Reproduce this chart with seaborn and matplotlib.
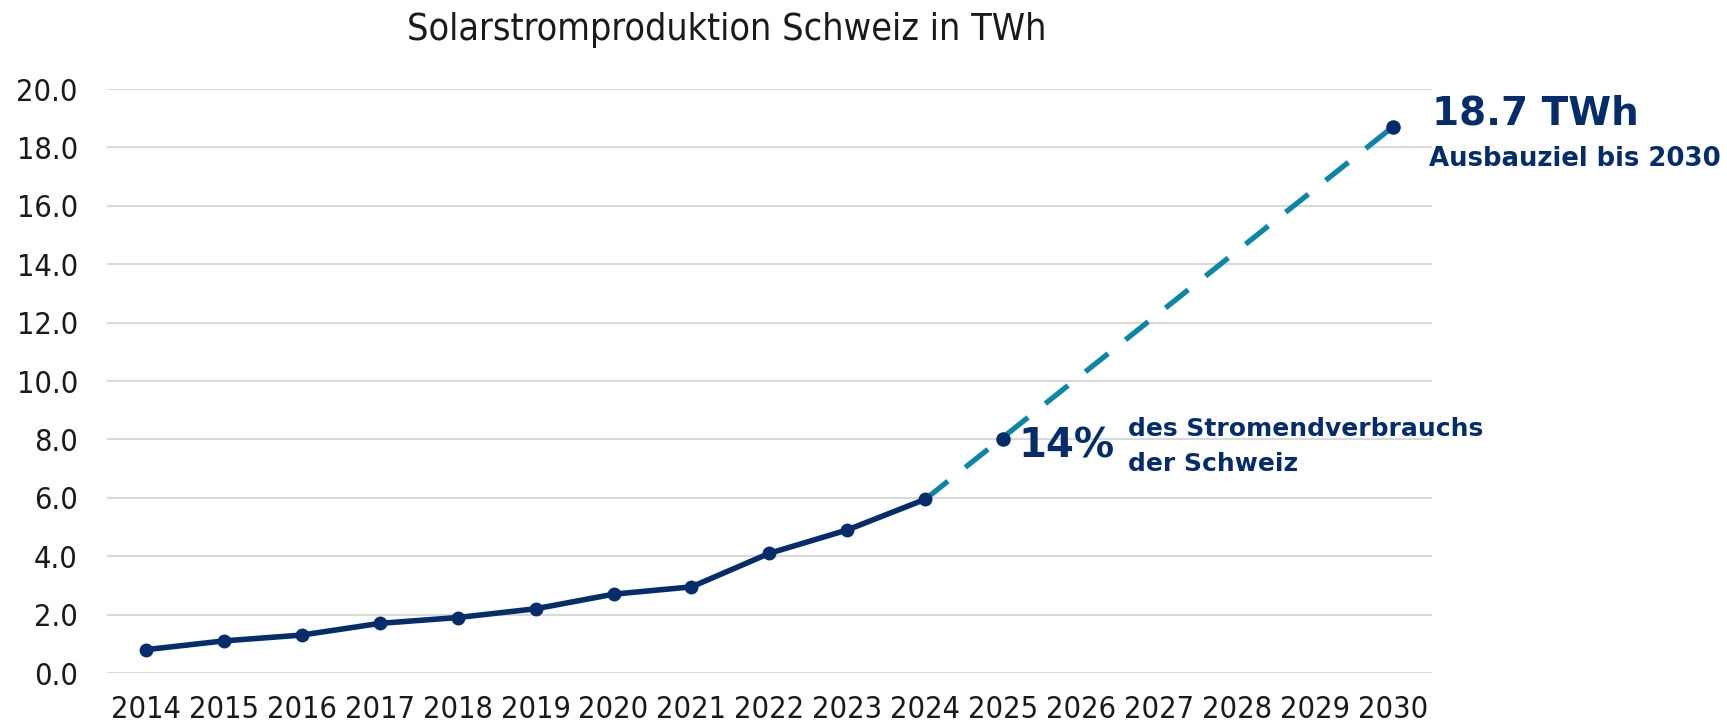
import pandas as pd
import numpy as np
import matplotlib.pyplot as plt
import seaborn as sns
from matplotlib import font_manager

# Data
years = [str(y) for y in range(2014, 2031)]
actual_years = ["2014", "2015", "2016", "2017", "2018", "2019", "2020",
                "2021", "2022", "2023", "2024"]
actual_twh = [0.8, 1.1, 1.3, 1.7, 1.9, 2.2, 2.7, 2.95, 4.1, 4.9, 5.95]
target_years = ["2024", "2030"]
target_twh = [5.95, 18.7]
milestone_years = ["2025", "2030"]
milestone_twh = [8.0, 18.7]
yticks = [0, 2, 4, 6, 8, 10, 12, 14, 16, 18, 20]

title = "Solarstromproduktion Schweiz in TWh"
goal_big = "18.7 TWh"
goal_small = "Ausbauziel bis 2030"
share_big = "14%"
share_small = "des Stromendverbrauchs\nder Schweiz"

navy = "#062d6b"
teal = "#0a86a8"
grid = "#d9d9d9"

sns.set_style("white")
plt.rcParams["font.family"] = ["DejaVu Sans"]


def condensed_font():
    # look for a narrow/condensed regular face among the installed fonts
    narrow = ("condensed", "semi-condensed", "extra-condensed", "ultra-condensed")
    best = None
    for f in font_manager.fontManager.ttflist:
        is_narrow = f.stretch in narrow or "Narrow" in f.name or "Condensed" in f.name
        w = f.weight if isinstance(f.weight, int) else {"normal": 400, "regular": 400, "book": 400}.get(str(f.weight), 700)
        if is_narrow and w == 400 and f.style == "normal":
            rank = 0 if "DejaVu" in f.name else 1 if "Liberation" in f.name else 2
            if best is None or rank < best[0]:
                best = (rank, f.fname)
    if best is None:
        return None
    return font_manager.FontProperties(fname=best[1])


narrow_fp = condensed_font()

pos = {y: i for i, y in enumerate(years)}
df_act = pd.DataFrame({"x": [pos[y] for y in actual_years], "twh": actual_twh})
df_tgt = pd.DataFrame({"x": [pos[y] for y in target_years], "twh": target_twh})
df_ms = pd.DataFrame({"x": [pos[y] for y in milestone_years], "twh": milestone_twh})

fig = plt.figure(figsize=(17.27, 7.25), dpi=100)
ax = fig.add_axes([0.062, 0.0717, 0.767, 0.8055])

# gridlines
for t in yticks:
    ax.axhline(t, color=grid, lw=1.5, zorder=0)

# projection (dashed)
sns.lineplot(data=df_tgt, x="x", y="twh", ax=ax, color=teal, lw=3.8, zorder=2)
ax.lines[-1].set_dashes([5.5, 4.2])
# actual production
sns.lineplot(data=df_act, x="x", y="twh", ax=ax, color=navy, lw=4.0,
             marker="o", markersize=10, markeredgewidth=0, zorder=3)
sns.scatterplot(data=df_ms, x="x", y="twh", ax=ax, color=navy, s=110,
                linewidth=0, zorder=4)

ax.set_xlim(-0.5, len(years) - 0.5)
ax.set_ylim(0, 20)
ax.set_xticks(range(len(years)))
ax.set_xticklabels(years)
ax.set_yticks(yticks)
ax.set_yticklabels([f"{t:.1f}" for t in yticks])
ax.set_xlabel("")
ax.set_ylabel("")
sns.despine(ax=ax, left=True, bottom=True)

size = 22 if narrow_fp is not None else 18
title_size = 27 if narrow_fp is not None else 22
ax.tick_params(axis="both", length=0, labelsize=size, colors="#1a1a1a")
ax.tick_params(axis="x", pad=16)
ax.tick_params(axis="y", pad=21)

title_txt = fig.text(0.421, 0.958, title, ha="center", va="center",
                     fontsize=title_size, color="#1a1a1a")
if narrow_fp is not None:
    for lab in ax.get_xticklabels() + ax.get_yticklabels():
        lab.set_fontproperties(narrow_fp)
        lab.set_fontsize(size)
    title_txt.set_fontproperties(narrow_fp)
    title_txt.set_fontsize(title_size)

bold = ["DejaVu Sans"]
x30, y30 = pos["2030"], milestone_twh[1]
ax.annotate(goal_big, (x30, y30), xytext=(28, 10), textcoords="offset points",
            fontsize=28, fontweight="bold", color=navy, family=bold, va="center", ha="left")
ax.annotate(goal_small, (x30, y30), xytext=(26, -23), textcoords="offset points",
            fontsize=18.7, fontweight="bold", color=navy, family=bold, va="center", ha="left")
x25, y25 = pos["2025"], milestone_twh[0]
ax.annotate(share_big, (x25, y25), xytext=(11, -5), textcoords="offset points",
            fontsize=29, fontweight="bold", color=navy, family=bold, va="center", ha="left")
ax.annotate(share_small, (x25, y25), xytext=(90, -5), textcoords="offset points",
            fontsize=18, fontweight="bold", color=navy, family=bold, va="center", ha="left",
            linespacing=1.6)

fig.savefig("out.png", dpi=100)
